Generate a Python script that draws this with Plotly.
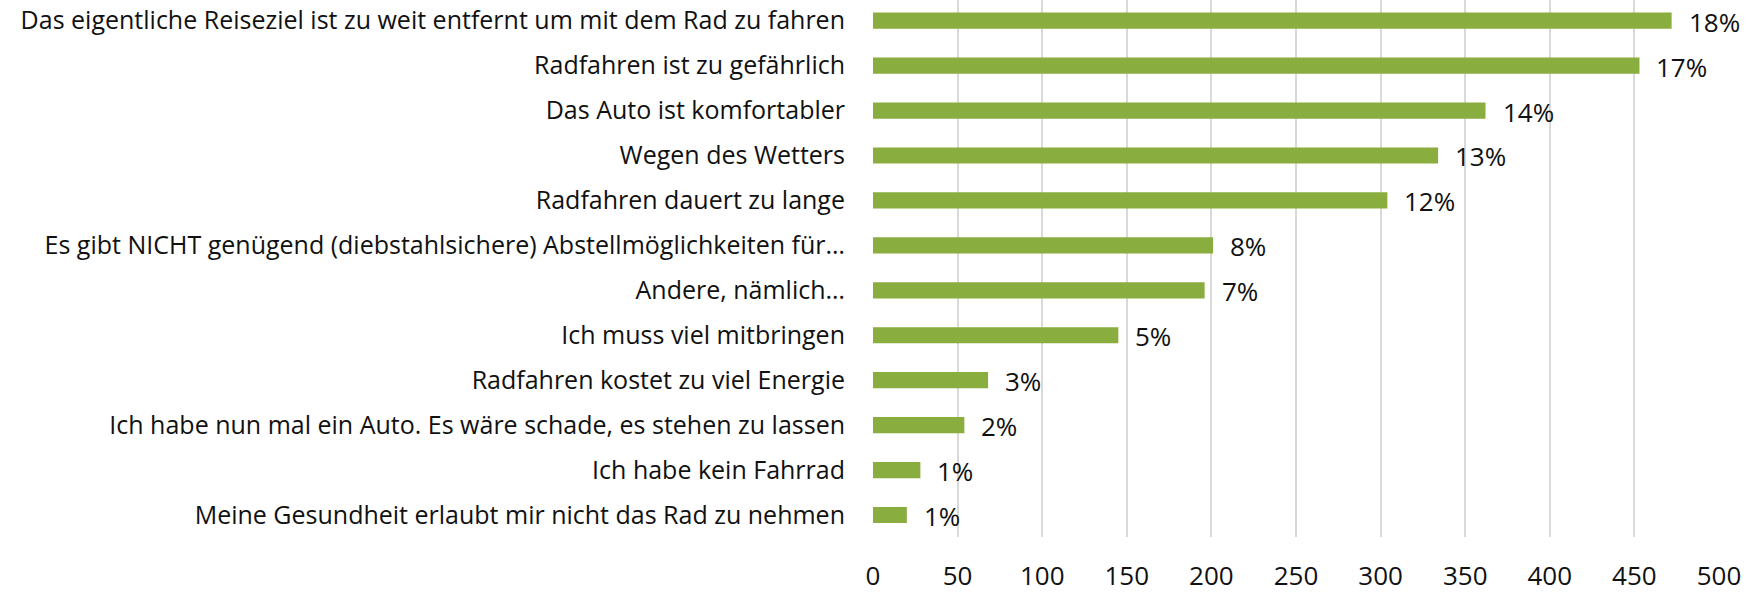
"""Horizontal bar chart: reasons for not using the bike."""

import plotly.graph_objects as go

CATEGORIES = [
    "Das eigentliche Reiseziel ist zu weit entfernt um mit dem Rad zu fahren",
    "Radfahren ist zu gefährlich",
    "Das Auto ist komfortabler",
    "Wegen des Wetters",
    "Radfahren dauert zu lange",
    "Es gibt NICHT genügend (diebstahlsichere) Abstellmöglichkeiten für…",
    "Andere, nämlich…",
    "Ich muss viel mitbringen",
    "Radfahren kostet zu viel Energie",
    "Ich habe nun mal ein Auto. Es wäre schade, es stehen zu lassen",
    "Ich habe kein Fahrrad",
    "Meine Gesundheit erlaubt mir nicht das Rad zu nehmen",
]
COUNTS = [472, 453, 362, 334, 304, 201, 196, 145, 68, 54, 28, 20]
PERCENT_LABELS = ["18%", "17%", "14%", "13%", "12%", "8%", "7%", "5%", "3%", "2%", "1%", "1%"]
X_TICKS = [0, 50, 100, 150, 200, 250, 300, 350, 400, 450, 500]

BAR_COLOR = "#8AAD3F"
TEXT_COLOR = "#111111"
GRID_COLOR = "#D9D9D9"
FONT = "Open Sans, Noto Sans, sans-serif"

fig = go.Figure(
    go.Bar(
        x=COUNTS,
        y=CATEGORIES,
        orientation="h",
        marker=dict(color=BAR_COLOR, line=dict(width=0)),
        hoverinfo="x+y",
    )
)

# percentage labels sit a little to the right of each bar end
for cat, val, lab in zip(CATEGORIES, COUNTS, PERCENT_LABELS):
    fig.add_annotation(
        x=val,
        y=cat,
        xref="x",
        yref="y",
        text=lab,
        showarrow=False,
        xanchor="left",
        yanchor="middle",
        xshift=15,
        yshift=-1,
        font=dict(family=FONT, size=26, color=TEXT_COLOR),
    )

fig.update_layout(
    width=1761,
    height=593,
    bargap=0.64,
    paper_bgcolor="white",
    plot_bgcolor="white",
    showlegend=False,
    font=dict(family=FONT, color=TEXT_COLOR),
    margin=dict(l=873, r=42, t=0, b=56, autoexpand=False),
)
fig.update_xaxes(
    range=[0, 500],
    tickvals=X_TICKS,
    showgrid=True,
    gridcolor=GRID_COLOR,
    gridwidth=1.5,
    zeroline=False,
    showline=False,
    ticks="",
    ticklabelstandoff=21,
    tickfont=dict(family=FONT, size=26, color=TEXT_COLOR),
    fixedrange=True,
)
fig.update_yaxes(
    categoryorder="array",
    categoryarray=CATEGORIES,
    range=[11.49, -0.46],
    showgrid=False,
    zeroline=False,
    showline=False,
    ticks="",
    ticklabelstandoff=27,
    tickfont=dict(family=FONT, size=25, color=TEXT_COLOR),
    fixedrange=True,
)

# drop the default body margin so the figure fills the window exactly
fig.write_html(
    "out.html",
    config={"displayModeBar": False},
    post_script="document.body.style.margin = '0';",
)
